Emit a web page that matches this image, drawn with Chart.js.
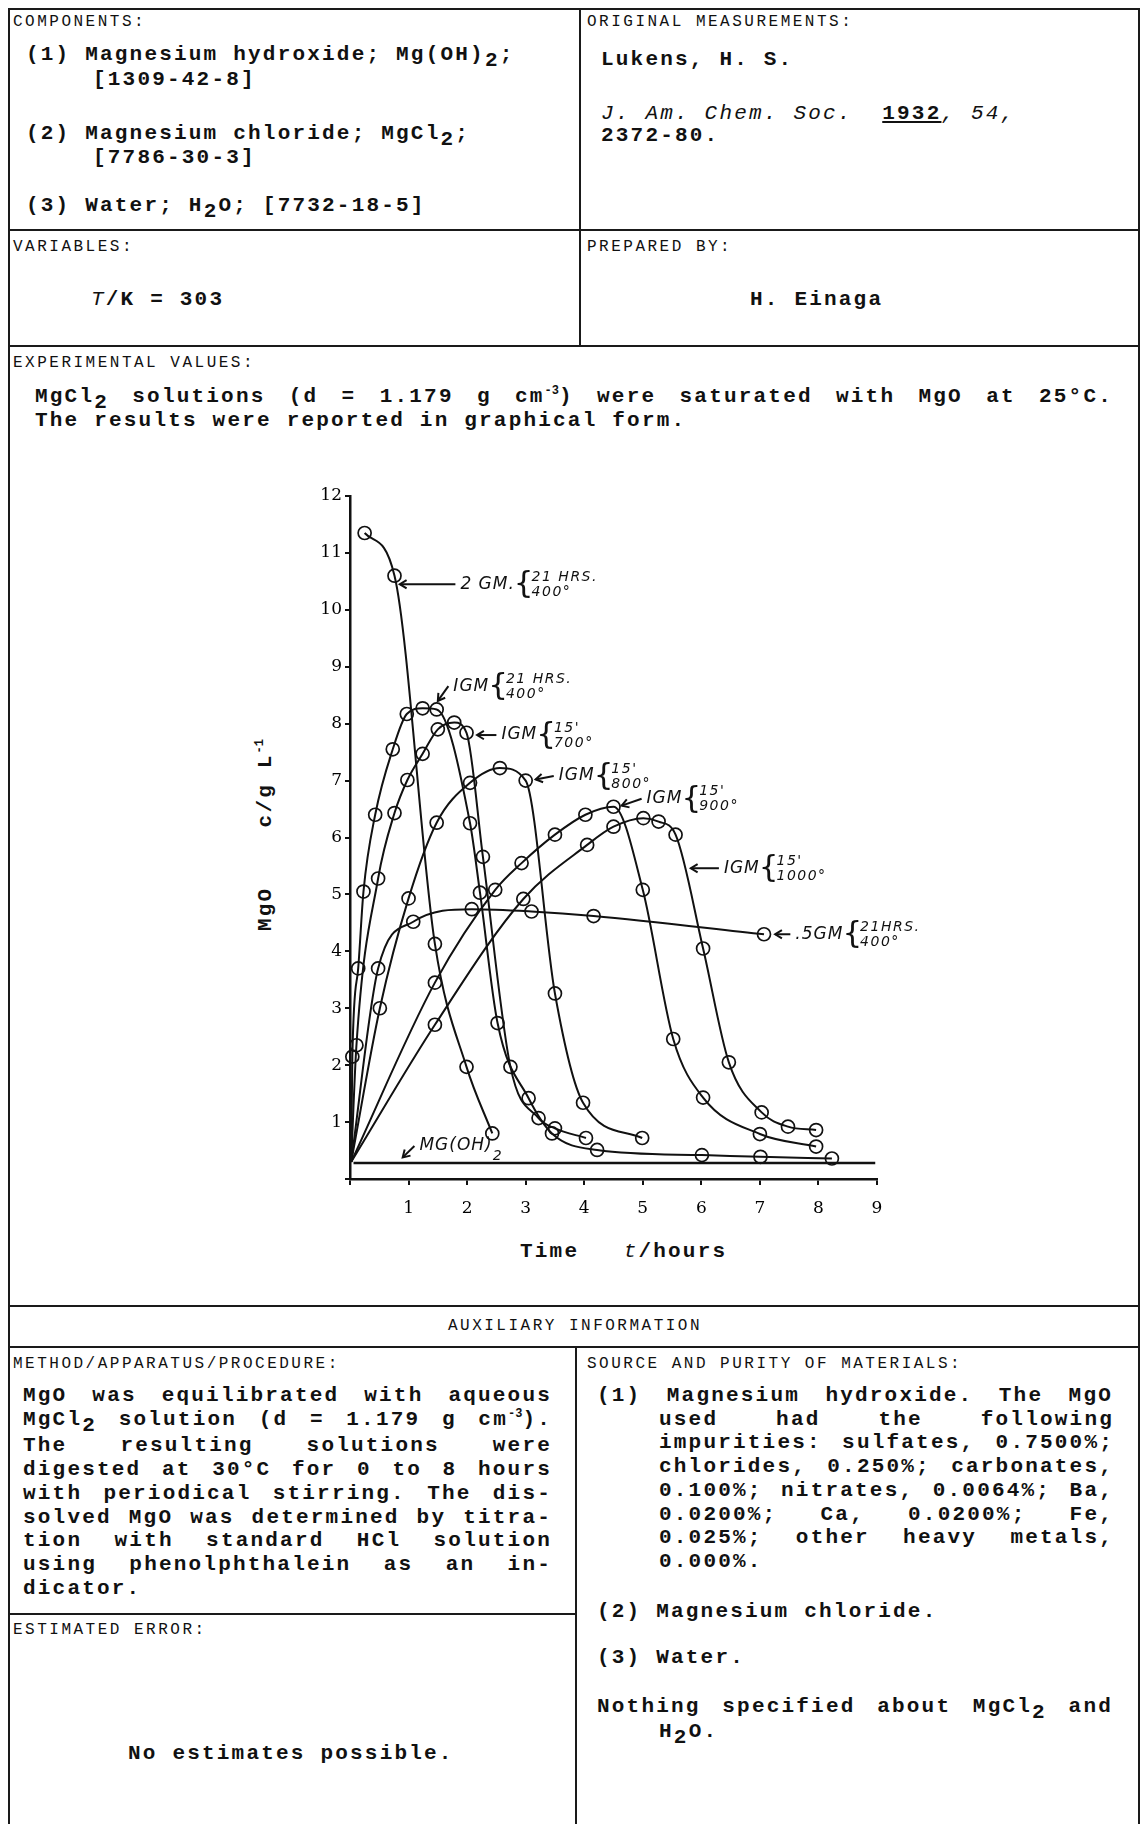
<!DOCTYPE html>
<html>
<head>
<meta charset="utf-8">
<script src="https://cdn.jsdelivr.net/npm/chart.js@4.4.1/dist/chart.umd.min.js"></script>
<style>
html, body { margin: 0; padding: 0; background: #fff; }
body { width: 1142px; height: 1824px; position: relative; overflow: hidden; color: #111; }
.t { position: absolute; font-family: 'Liberation Mono', 'DejaVu Sans Mono', monospace; font-weight: bold; font-size: 21px; letter-spacing: 2.2px; line-height: 24px; white-space: pre; }
.h { position: absolute; font-family: 'Liberation Mono', 'DejaVu Sans Mono', monospace; font-size: 16px; letter-spacing: 2.5px; line-height: 20px; white-space: pre; }
.ln { position: absolute; background: #1a1a1a; }
.sb { position: relative; top: 6px; }
.sp { position: relative; top: -8px; font-size: 12px; letter-spacing: 0; }
.j { white-space: normal; text-align: justify; text-align-last: justify; }
.par { position: absolute; font-family: 'Liberation Mono', 'DejaVu Sans Mono', monospace; font-weight: bold; font-size: 21px; letter-spacing: 2.2px; line-height: 23.7px; }
.par div { white-space: nowrap; }
.par div.j { white-space: normal; }
#chartBox { position: absolute; left: 290px; top: 440px; width: 660px; height: 800px; }
</style>
</head>
<body>

<!-- cadre -->
<div class="ln" style="left:8px;top:8px;width:1132px;height:2px"></div>
<div class="ln" style="left:8px;top:8px;width:2px;height:1816px"></div>
<div class="ln" style="left:1138px;top:8px;width:2px;height:1816px"></div>
<div class="ln" style="left:579px;top:8px;width:2px;height:338px"></div>
<div class="ln" style="left:8px;top:229px;width:1132px;height:2px"></div>
<div class="ln" style="left:8px;top:345px;width:1132px;height:2px"></div>
<div class="ln" style="left:8px;top:1305px;width:1132px;height:2px"></div>
<div class="ln" style="left:8px;top:1346px;width:1132px;height:2px"></div>
<div class="ln" style="left:575px;top:1346px;width:2px;height:478px"></div>
<div class="ln" style="left:8px;top:1613px;width:568px;height:2px"></div>

<!-- haut gauche -->
<div class="h" style="left:13px;top:12px">COMPONENTS:</div>
<div class="t" style="left:26px;top:43px">(1) Magnesium hydroxide; Mg(OH)<span class="sb">2</span>;</div>
<div class="t" style="left:93px;top:68px">[1309-42-8]</div>
<div class="t" style="left:26px;top:122px">(2) Magnesium chloride; MgCl<span class="sb">2</span>;</div>
<div class="t" style="left:93px;top:146px">[7786-30-3]</div>
<div class="t" style="left:26px;top:194px">(3) Water; H<span class="sb">2</span>O; [7732-18-5]</div>

<!-- haut droite -->
<div class="h" style="left:587px;top:12px">ORIGINAL MEASUREMENTS:</div>
<div class="t" style="left:601px;top:48px">Lukens, H. S.</div>
<div class="t" style="left:601px;top:102px"><i style="font-weight:normal">J. Am. Chem. Soc.</i>  <u>1932</u><i style="font-weight:normal">, 54,</i></div>
<div class="t" style="left:601px;top:124px">2372-80.</div>

<div class="h" style="left:13px;top:237px">VARIABLES:</div>
<div class="t" style="left:91px;top:288px"><i style="font-weight:normal">T</i>/K = 303</div>
<div class="h" style="left:587px;top:237px">PREPARED BY:</div>
<div class="t" style="left:750px;top:288px">H. Einaga</div>

<div class="h" style="left:13px;top:353px">EXPERIMENTAL VALUES:</div>
<div class="t j" style="left:35px;top:385px;width:1078px">MgCl<span class="sb">2</span> solutions (d = 1.179 g cm<span class="sp">-3</span>) were saturated with MgO at 25°C.</div>
<div class="t" style="left:35px;top:409px">The results were reported in graphical form.</div>

<!-- graphique -->
<div id="chartBox"><canvas id="lukensChart" width="660" height="800"></canvas></div>
<div class="t" style="left:267px;top:835px;transform:translate(-50%,-50%) rotate(-90deg)">MgO    c/g L<span class="sp">-1</span></div>
<div class="t" style="left:520px;top:1240px">Time   <i style="font-weight:normal">t</i>/hours</div>

<!-- bas -->
<div class="h" style="left:0;width:1150px;text-align:center;top:1316px">AUXILIARY INFORMATION</div>
<div class="h" style="left:13px;top:1354px">METHOD/APPARATUS/PROCEDURE:</div>
<div class="h" style="left:587px;top:1354px">SOURCE AND PURITY OF MATERIALS:</div>

<div class="par" style="left:23px;top:1384px;width:529px">
  <div class="j">MgO was equilibrated with aqueous</div>
  <div class="j">MgCl<span class="sb">2</span> solution (d = 1.179 g cm<span class="sp">-3</span>).</div>
  <div class="j">The resulting solutions were</div>
  <div class="j">digested at 30°C for 0 to 8 hours</div>
  <div class="j">with periodical stirring.  The dis-</div>
  <div class="j">solved MgO was determined by titra-</div>
  <div class="j">tion with standard HCl solution</div>
  <div class="j">using phenolphthalein as an in-</div>
  <div>dicator.</div>
</div>

<div class="par" style="left:597px;top:1384px;width:516px">
  <div class="j">(1)  Magnesium hydroxide.  The MgO</div>
</div>
<div class="par" style="left:659px;top:1407.7px;width:455px">
  <div class="j">used had the following</div>
  <div class="j">impurities: sulfates, 0.7500%;</div>
  <div class="j">chlorides, 0.250%; carbonates,</div>
  <div class="j">0.100%; nitrates, 0.0064%; Ba,</div>
  <div class="j">0.0200%;  Ca,  0.0200%;  Fe,</div>
  <div class="j">0.025%;  other heavy metals,</div>
  <div>0.000%.</div>
</div>
<div class="t" style="left:597px;top:1600px">(2) Magnesium chloride.</div>
<div class="t" style="left:597px;top:1646px">(3) Water.</div>
<div class="t j" style="left:597px;top:1695px;width:516px">Nothing specified about MgCl<span class="sb">2</span> and</div>
<div class="t" style="left:659px;top:1720px">H<span class="sb">2</span>O.</div>

<div class="h" style="left:13px;top:1620px">ESTIMATED ERROR:</div>
<div class="t" style="left:128px;top:1742px">No estimates possible.</div>

<script>
// Lukens 1932 - MgO dissous (g/L) en fonction du temps (heures)

const xTicks = [1, 2, 3, 4, 5, 6, 7, 8, 9];
const yTicks = [1, 2, 3, 4, 5, 6, 7, 8, 9, 10, 11, 12];

// 2 GM, 21 hrs, 400°
const time2gm = [0.25, 0.76, 1.45, 1.99, 2.43];
const mgo2gm = [11.35, 10.6, 4.13, 1.97, 0.80];

// 1 GM, 21 hrs, 400°
const time1gm400 = [0.02, 0.04, 0.14, 0.23, 0.43, 0.73, 0.97, 1.24, 1.48, 2.05, 2.22, 2.52, 3.05, 3.45, 4.22, 6.01, 7.01, 8.23];
const mgo1gm400 = [0.30, 2.15, 3.70, 5.05, 6.40, 7.55, 8.17, 8.27, 8.25, 6.25, 5.03, 2.74, 1.42, 0.80, 0.51, 0.42, 0.39, 0.36];

// 1 GM, 15', 700°
const time1gm700 = [0.02, 0.11, 0.48, 0.76, 0.98, 1.24, 1.50, 1.78, 1.99, 2.27, 2.74, 3.22, 3.50, 4.03];
const mgo1gm700 = [0.30, 2.35, 5.28, 6.43, 7.01, 7.47, 7.90, 8.02, 7.84, 5.66, 1.97, 1.07, 0.89, 0.72];

// 1 GM, 15', 800°
const time1gm800 = [0.02, 0.51, 1.00, 1.48, 2.05, 2.56, 3.00, 3.50, 3.98, 4.99];
const mgo1gm800 = [0.30, 3.00, 4.93, 6.26, 6.96, 7.22, 7.00, 3.26, 1.34, 0.72];

// 1 GM, 15', 900°
const time1gm900 = [0.02, 1.45, 2.48, 2.93, 3.50, 4.02, 4.50, 5.00, 5.52, 6.03, 7.00, 7.96];
const mgo1gm900 = [0.30, 3.45, 5.08, 5.55, 6.05, 6.40, 6.54, 5.08, 2.46, 1.43, 0.79, 0.57];

// 1 GM, 15', 1000°
const time1gm1000 = [0.02, 1.45, 2.96, 4.05, 4.50, 5.01, 5.27, 5.56, 6.03, 6.47, 7.03, 7.48, 7.96];
const mgo1gm1000 = [0.30, 2.71, 4.92, 5.87, 6.19, 6.34, 6.28, 6.05, 4.05, 2.05, 1.17, 0.92, 0.86];

// .5 GM, 21 hrs, 400°
const time05gm = [0.02, 0.48, 1.08, 2.08, 3.10, 4.16, 7.07];
const mgo05gm = [0.30, 3.70, 4.52, 4.74, 4.70, 4.62, 4.30];

// Mg(OH)2
const timeMgOH2 = [0.06, 8.97];
const mgoMgOH2 = [0.28, 0.28];

// étiquettes manuscrites (flèche + texte)
const notes = [
    { tip: [0.85, 10.45], tail: [1.80, 10.45], name: '2 GM.', top: '21 HRS.', bottom: '400°' },
    { tip: [1.50, 8.40], tail: [1.68, 8.66], name: 'IGM', top: '21 HRS.', bottom: '400°' },
    { tip: [2.17, 7.80], tail: [2.50, 7.80], name: 'IGM', top: "15'", bottom: '700°' },
    { tip: [3.17, 7.02], tail: [3.48, 7.08], name: 'IGM', top: "15'", bottom: '800°' },
    { tip: [4.64, 6.56], tail: [4.98, 6.68], name: 'IGM', top: "15'", bottom: '900°' },
    { tip: [5.82, 5.46], tail: [6.30, 5.46], name: 'IGM', top: "15'", bottom: '1000°' },
    { tip: [7.26, 4.30], tail: [7.52, 4.30], name: '.5GM', top: '21HRS.', bottom: '400°' },
    { tip: [0.90, 0.38], tail: [1.10, 0.58], name: 'MG(OH)', sub: '2' }
];

function toPoints(xs, ys) {
    return xs.map((v, i) => ({ x: v, y: ys[i] }));
}

function curve(label, xs, ys) {
    return {
        label: label,
        data: toPoints(xs, ys),
        borderColor: '#111',
        borderWidth: 2,
        pointBorderColor: '#111',
        pointBackgroundColor: 'rgba(0,0,0,0)',
        pointBorderWidth: 1.7,
        // pas de cercle au point d'origine commun
        pointRadius: ctx => (ctx.raw && ctx.raw.x < 0.05 && ctx.raw.y < 0.5 ? 0 : 6.5),
        cubicInterpolationMode: 'monotone',
        clip: false
    };
}

const notePlugin = {
    id: 'notes',
    afterDatasetsDraw(chart) {
        const ctx = chart.ctx;
        const xs = chart.scales.x;
        const ys = chart.scales.y;
        ctx.save();
        ctx.strokeStyle = '#111';
        ctx.fillStyle = '#111';
        ctx.lineWidth = 2;
        ctx.textBaseline = 'middle';
        notes.forEach(n => {
            const x1 = xs.getPixelForValue(n.tip[0]);
            const y1 = ys.getPixelForValue(n.tip[1]);
            const x2 = xs.getPixelForValue(n.tail[0]);
            const y2 = ys.getPixelForValue(n.tail[1]);
            ctx.beginPath();
            ctx.moveTo(x1, y1);
            ctx.lineTo(x2, y2);
            ctx.stroke();
            const a = Math.atan2(y2 - y1, x2 - x1);
            ctx.beginPath();
            ctx.moveTo(x1 + 8 * Math.cos(a - 0.55), y1 + 8 * Math.sin(a - 0.55));
            ctx.lineTo(x1, y1);
            ctx.lineTo(x1 + 8 * Math.cos(a + 0.55), y1 + 8 * Math.sin(a + 0.55));
            ctx.stroke();

            let tx = x2 + 5;
            ctx.letterSpacing = '1px';
            ctx.font = 'italic 17px "DejaVu Sans", sans-serif';
            ctx.fillText(n.name, tx, y2);
            tx += ctx.measureText(n.name).width;
            if (n.sub) {
                ctx.font = 'italic 14px "DejaVu Sans", sans-serif';
                ctx.fillText(n.sub, tx, y2 + 10);
                return;
            }
            ctx.letterSpacing = '0px';
            ctx.font = '31px "DejaVu Sans", sans-serif';
            ctx.fillText('{', tx - 1, y2 + 1);
            tx += ctx.measureText('{').width - 3;
            ctx.letterSpacing = '1.5px';
            ctx.font = 'italic 14px "DejaVu Sans", sans-serif';
            ctx.fillText(n.top, tx, y2 - 7);
            ctx.fillText(n.bottom, tx, y2 + 8);
            ctx.letterSpacing = '0px';
        });
        ctx.restore();
    }
};

const tickFont = { family: '"DejaVu Serif", serif', size: 17 };

new Chart(document.getElementById('lukensChart'), {
    type: 'line',
    data: {
        datasets: [
            curve('2 GM 21 hrs 400°', time2gm, mgo2gm),
            curve('1 GM 21 hrs 400°', time1gm400, mgo1gm400),
            curve("1 GM 15' 700°", time1gm700, mgo1gm700),
            curve("1 GM 15' 800°", time1gm800, mgo1gm800),
            curve("1 GM 15' 900°", time1gm900, mgo1gm900),
            curve("1 GM 15' 1000°", time1gm1000, mgo1gm1000),
            curve('.5 GM 21 hrs 400°', time05gm, mgo05gm),
            {
                label: 'Mg(OH)2',
                data: toPoints(timeMgOH2, mgoMgOH2),
                borderColor: '#111',
                borderWidth: 2.4,
                pointRadius: 0,
                clip: false
            }
        ]
    },
    options: {
        responsive: false,
        animation: false,
        layout: { padding: { left: 0, right: 73, top: 56, bottom: 1 } },
        plugins: {
            legend: { display: false },
            tooltip: { enabled: false }
        },
        scales: {
            x: {
                type: 'linear',
                min: 0,
                max: 9,
                afterFit: s => { s.height = 60; },
                afterBuildTicks: s => { s.ticks = [0].concat(xTicks).map(v => ({ value: v })); },
                ticks: {
                    color: '#000',
                    font: tickFont,
                    padding: 13,
                    maxRotation: 0,
                    callback: v => (v === 0 ? '' : v)
                },
                grid: { drawOnChartArea: false, drawTicks: true, tickLength: 6, color: '#111', lineWidth: 2 },
                border: { display: true, color: '#111', width: 2.5 }
            },
            y: {
                type: 'linear',
                min: 0,
                max: 12,
                afterFit: s => { s.width = 60; },
                afterBuildTicks: s => { s.ticks = [0].concat(yTicks).map(v => ({ value: v })); },
                ticks: {
                    color: '#000',
                    font: tickFont,
                    padding: 3,
                    callback: v => (v === 0 ? '' : v)
                },
                grid: { drawOnChartArea: false, drawTicks: true, tickLength: 5, color: '#111', lineWidth: 2 },
                border: { display: true, color: '#111', width: 2.5 }
            }
        }
    },
    plugins: [notePlugin]
});
</script>
</body>
</html>
